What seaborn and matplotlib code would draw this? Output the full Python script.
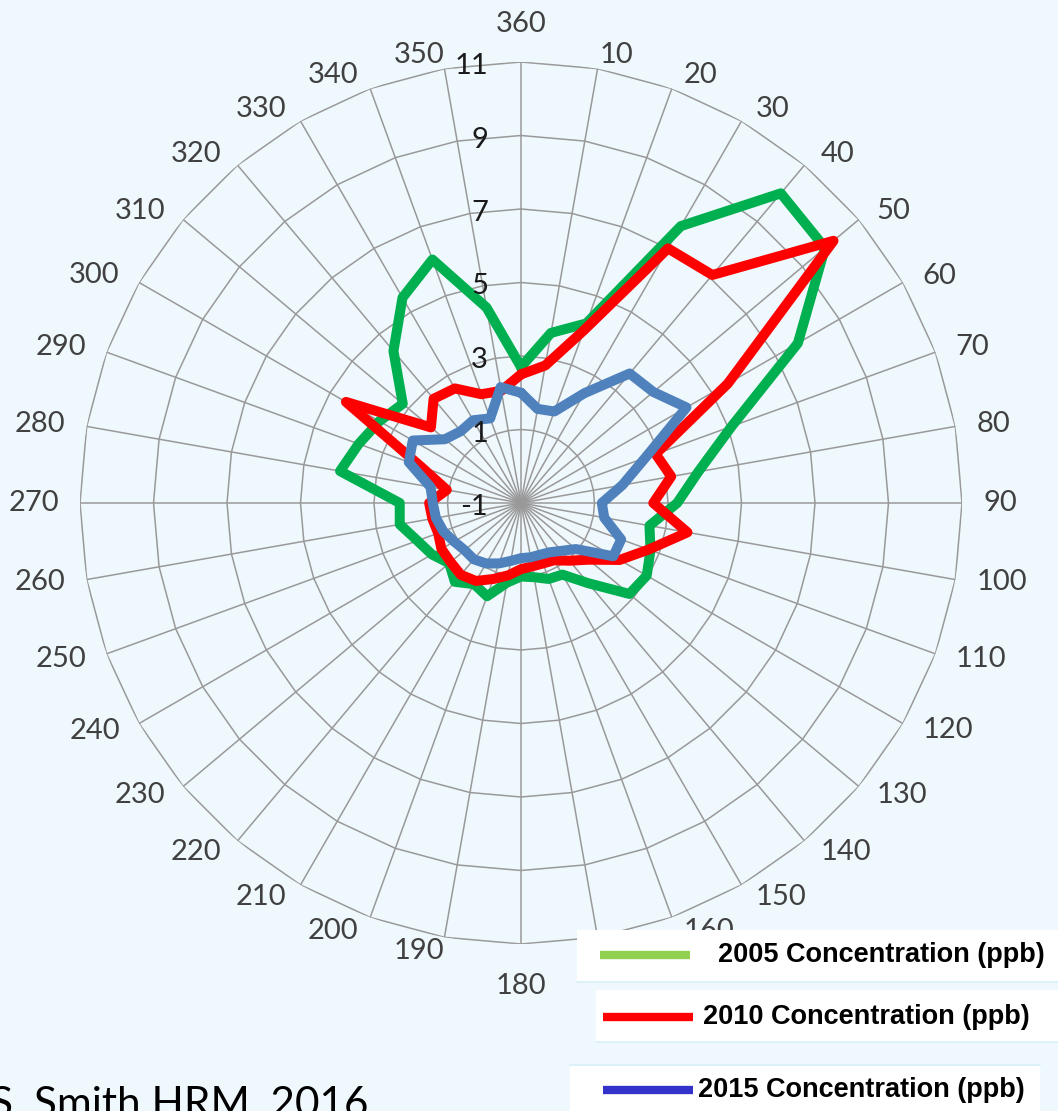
import numpy as np
import pandas as pd
import matplotlib
matplotlib.use("Agg")
import matplotlib.pyplot as plt
from matplotlib.lines import Line2D
from matplotlib.patches import Rectangle
from matplotlib.transforms import offset_copy
import seaborn as sns

# --- Data ---
directions = list(range(0, 360, 10))
dir_labels = ["360"] + [str(d) for d in range(10, 360, 10)]

conc_2005 = [2.7, 3.7, 4.2, 7.7, 10.0, 9.8, 7.7, 5.1, 3.9, 3.25, 2.55, 2.75,
             2.95, 2.85, 1.85, 1.25, 1.2, 1.05, 1.0, 1.2, 1.7, 1.55, 1.8, 1.55,
             1.8, 2.0, 2.35, 2.3, 4.0, 3.7, 3.45, 3.2, 4.4, 5.45, 6.05, 4.4]
conc_2010 = [2.5, 2.8, 4.0, 7.0, 7.1, 10.1, 5.5, 2.9, 3.15, 2.6, 3.6, 2.7,
             2.1, 1.4, 1.05, 0.8, 0.75, 0.75, 0.8, 1.0, 1.2, 1.45, 1.55, 1.5,
             1.5, 1.4, 1.45, 1.5, 1.05, 1.9, 4.5, 2.2, 2.7, 2.6, 2.15, 2.1]
conc_2015 = [2.0, 1.6, 1.65, 2.45, 3.6, 3.7, 4.2, 2.6, 1.8, 1.2, 1.3, 1.9,
             1.9, 0.95, 0.7, 0.55, 0.5, 0.5, 0.5, 0.6, 0.75, 0.9, 1.0, 1.0,
             1.1, 1.25, 1.35, 1.4, 1.5, 2.25, 2.4, 1.7, 1.55, 1.6, 1.45, 2.2]

r_ticks = [-1, 1, 3, 5, 7, 9, 11]
series_names = ["2005 Concentration (ppb)", "2010 Concentration (ppb)",
                "2015 Concentration (ppb)"]
line_colors = ["#00b050", "#ff0000", "#4f81bd"]
legend_colors = ["#92d050", "#ff0000", "#3333cc"]

# --- Style ---
sns.set_theme(style="white")
plt.rcParams["font.family"] = ["Lato", "DejaVu Sans"]

W, H = 1058, 1111
fig = plt.figure(figsize=(W / 100, H / 100), dpi=100, facecolor="#eff8fc")


def fx(x):
    return x / W


def fy(y):
    return 1 - y / H


# radar centre at (521, 503) px, outer ring radius 441 px
R_PX = 441
ax = fig.add_axes([fx(521 - R_PX), fy(503 + R_PX), 2 * R_PX / W, 2 * R_PX / H],
                  projection="polar")
ax.set_facecolor("none")
ax.set_theta_zero_location("N")
ax.set_theta_direction(-1)
ax.grid(False)
ax.spines["polar"].set_visible(False)

theta = np.deg2rad(directions)
theta_closed = np.append(theta, 2 * np.pi)

# polygon gridlines + spokes (Excel style)
grid_col = "#999999"
for v in r_ticks[1:]:
    ax.plot(theta_closed, [v] * len(theta_closed), color=grid_col, lw=1.1, zorder=1)
for t in theta:
    ax.plot([t, t], [r_ticks[0], r_ticks[-1]], color=grid_col, lw=1.1, zorder=1)

# long-form table for seaborn
rows = []
for name, vals in zip(series_names, [conc_2005, conc_2010, conc_2015]):
    vals_closed = list(vals) + [vals[0]]
    for t, v in zip(theta_closed, vals_closed):
        rows.append({"series": name, "theta": t, "value": v})
df = pd.DataFrame(rows)

n_before = len(ax.lines)
sns.lineplot(data=df, x="theta", y="value", hue="series", hue_order=series_names,
             palette=line_colors, sort=False, estimator=None, lw=7.2,
             legend=False, ax=ax)
for ln in ax.lines[n_before:]:
    ln.set_solid_joinstyle("round")
    ln.set_solid_capstyle("round")
    ln.set_zorder(3)

ax.set_xlim(0, 2 * np.pi)
ax.set_ylim(r_ticks[0], r_ticks[-1])
ax.set_xticks([])
ax.set_yticks([])
ax.set_xlabel("")
ax.set_ylabel("")

# direction labels: anchored just outside the outer ring, pushed sideways
# by about half their width (Excel style placement)
px_per_unit = R_PX / (r_ticks[-1] - r_ticks[0])
r_anchor = r_ticks[-1] + 14 / px_per_unit
for t, lab in zip(theta, dir_labels):
    hw = 8.5 * len(lab) + 7
    dx = hw * np.clip(np.sin(t) / 0.25, -1, 1)
    dy = 0.0
    if abs(np.sin(t)) < 0.05:
        dy = 24 if np.cos(t) > 0 else -28
    trl = offset_copy(ax.transData, fig=fig, x=dx, y=dy, units="dots")
    ax.text(t, r_anchor, lab, transform=trl, ha="center", va="center",
            fontsize=21, color="#404040", clip_on=False, zorder=4)

# radial value labels left of the top spoke
tr = offset_copy(ax.transData, fig=fig, x=-33, y=-4, units="dots")
for v in r_ticks:
    ax.text(0, v, str(v), transform=tr, ha="right", va="center", fontsize=21,
            color="#1a1a1a", zorder=4)

# --- Legend (separate white boxes like the original slide) ---
edge = "#d6f0f9"
boxes = [(577, 930, 1058, 982), (596, 990, 1058, 1042), (570, 1065, 1040, 1111)]
for x0, y0, x1, y1 in boxes:
    fig.add_artist(Rectangle((fx(x0), fy(y1)), fx(x1) - fx(x0), fy(y0) - fy(y1),
                             transform=fig.transFigure, facecolor="white",
                             edgecolor="none", zorder=5))
    ly = y1 if y1 < H else y0
    fig.add_artist(Line2D([fx(x0), fx(x1)], [fy(ly), fy(ly)],
                          transform=fig.transFigure, color=edge, lw=1.2, zorder=6))

leg_lines = [(600, 690, 955), (603, 693, 1017), (603, 693, 1090)]
leg_text_x = [718, 703, 698]
for (x0, x1, y), tx, col, name in zip(leg_lines, leg_text_x, legend_colors, series_names):
    fig.add_artist(Line2D([fx(x0), fx(x1)], [fy(y), fy(y)], transform=fig.transFigure,
                          color=col, lw=6, solid_capstyle="butt", zorder=7))
    fig.text(fx(tx), fy(y), name, ha="left", va="center", fontsize=19.5,
             fontweight="bold", family=["Liberation Sans", "DejaVu Sans"],
             color="black", zorder=7)

# citation, partly cut off at the left and bottom edges as in the slide
fig.text(fx(-10), fy(1116), "S. Smith HRM, 2016", ha="left", va="baseline",
         fontsize=30.5, color="black", zorder=7)

fig.savefig("out.png", dpi=100, facecolor=fig.get_facecolor())
